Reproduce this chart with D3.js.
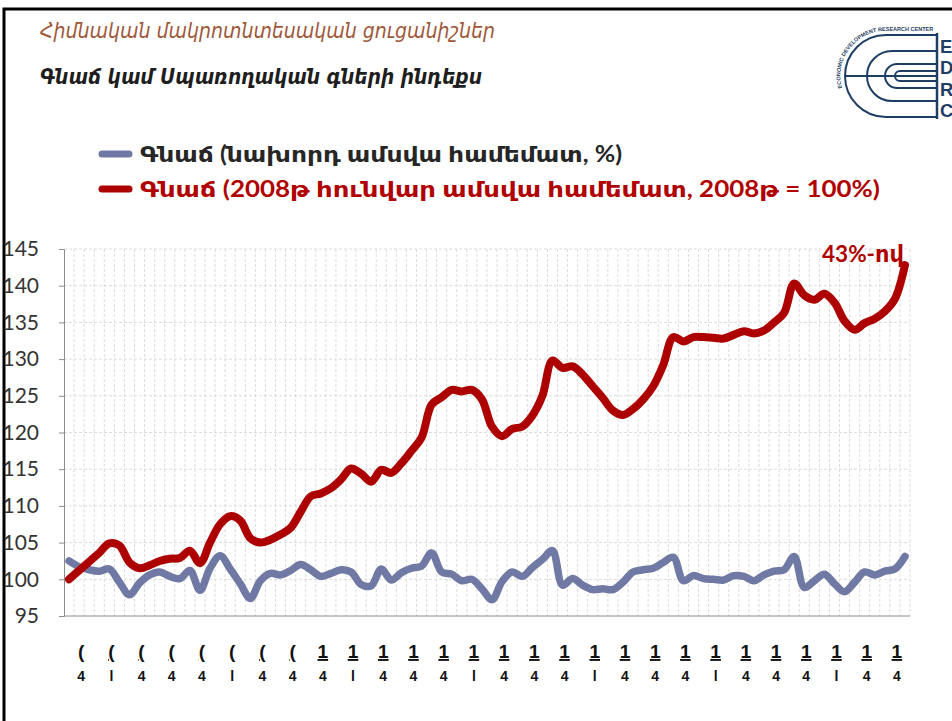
<!DOCTYPE html>
<html>
<head>
<meta charset="utf-8">
<script src="https://cdn.jsdelivr.net/npm/d3@7"></script>
<style>
  body { margin: 0; background: #fff; }
  svg { display: block; }
</style>
</head>
<body>
<div id="chart"></div>
<script>
// chart data
var years = [2008, 2009, 2010, 2011, 2012, 2013, 2014];
var monthNums = ["01","02","03","04","05","06","07","08","09","10","11","12"];

// month-over-month (blue)
var momValues = [102.5, 101.7, 101.3, 101.1, 101.4, 99.6, 97.9, 99.5, 100.6, 101.0,
  100.4, 100.1, 101.2, 98.5, 101.5, 103.2, 101.4, 99.4, 97.4, 99.8,
  100.8, 100.6, 101.2, 102.0, 101.3, 100.4, 100.8, 101.3, 101.0, 99.3,
  99.1, 101.4, 99.9, 100.9, 101.5, 101.8, 103.6, 101.0, 100.7, 99.8,
  100.0, 98.7, 97.2, 99.7, 101.0, 100.4, 101.6, 102.7, 103.9, 99.2,
  100.1, 99.2, 98.6, 98.7, 98.6, 99.6, 101.0, 101.3, 101.5, 102.3,
  103.0, 99.8, 100.5, 100.1, 100.0, 99.9, 100.5, 100.4, 99.8, 100.6,
  101.1, 101.3, 103.1, 98.9, 99.8, 100.7, 99.4, 98.3, 99.6, 101.0,
  100.6, 101.1, 101.4, 103.1];

// index vs Jan 2008 = 100 (red)
var indexValues = [100, 101.2, 102.4, 103.6, 104.9, 104.6, 102.3, 101.5, 101.9, 102.5,
  102.8, 102.9, 103.9, 102.2, 105.0, 107.5, 108.6, 108.0, 105.6, 105.0,
  105.4, 106.1, 107.0, 109.2, 111.3, 111.7, 112.4, 113.6, 115.1, 114.4,
  113.3, 114.9, 114.5, 115.8, 117.5, 119.3, 123.8, 124.8, 125.8, 125.6,
  125.8, 124.5, 120.8, 119.5, 120.5, 120.8, 122.3, 125.0, 129.8, 128.8,
  129.0, 127.9, 126.3, 124.7, 123.0, 122.4, 123.2, 124.5, 126.3, 129.2,
  133.0, 132.4, 133.0, 133.0, 132.9, 132.8, 133.3, 133.8, 133.5, 133.9,
  135.0, 136.3, 140.3, 138.7, 138.1, 138.9, 137.7, 135.2, 134.0, 134.9,
  135.5, 136.5, 138.2, 142.8];

var yTicks = [95, 100, 105, 110, 115, 120, 125, 130, 135, 140, 145];
// the category labels are clipped in the original, two glyphs survive
var labelTopByYear = ["(", "(", "1", "1", "1", "1", "1"];
var labelBottomByQuarter = ["4", "l", "4", "4"];

var title = "Հիմնական մակրոտնտեսական ցուցանիշներ";
var subtitle = "Գնաճ կամ Սպառողական գների ինդեքս";
var seriesNames = ["Գնաճ (նախորդ ամսվա համեմատ, %)", "Գնաճ (2008թ հունվար ամսվա համեմատ, 2008թ = 100%)"];
var endNote = "43%-ով";

var months = [];
years.forEach(function(y) { monthNums.forEach(function(m) { months.push(y + "-" + m); }); });

var W = 952, H = 721;
var svg = d3.select("#chart").append("svg").attr("width", W).attr("height", H);

// frame
svg.append("path").attr("d", "M4,721 V9 H952").attr("fill", "none")
  .attr("stroke", "#000").attr("stroke-width", 3);

// titles
svg.append("text").attr("x", 40).attr("y", 38).text(title)
  .attr("font-family", "DejaVu Sans").attr("font-style", "italic").attr("font-size", 22)
  .attr("fill", "#a0573a").attr("textLength", 455).attr("lengthAdjust", "spacingAndGlyphs");
svg.append("text").attr("x", 40).attr("y", 84).text(subtitle)
  .attr("font-family", "DejaVu Sans").attr("font-style", "italic").attr("font-weight", "bold")
  .attr("font-size", 22).attr("fill", "#1e1e1e")
  .attr("textLength", 442).attr("lengthAdjust", "spacingAndGlyphs");

// logo
var logo = svg.append("g").attr("fill", "none").attr("stroke", "#1f3e64").attr("stroke-width", 2);
var cy = 76;
[[41, 886], [25, 892], [12, 897], [5, 900]].forEach(function(a) {
  var r = a[0], cx = a[1];
  logo.append("path").attr("d", "M937," + (cy - r) + " H" + cx + " A" + r + "," + r + " 0 0 0 " + cx + "," + (cy + r) + " H937");
});
logo.append("line").attr("x1", 845).attr("x2", 937).attr("y1", cy).attr("y2", cy);
logo.append("line").attr("x1", 937).attr("x2", 937).attr("y1", 33).attr("y2", 119).attr("stroke-width", 2.5);
svg.append("path").attr("id", "logoArc").attr("fill", "none")
  .attr("d", "M842,88 A45,45 0 0 1 886,31 H936");
svg.append("text").attr("font-family", "Liberation Sans").attr("font-weight", "bold")
  .attr("font-size", 5.5).attr("fill", "#1f3e64")
  .append("textPath").attr("href", "#logoArc").text("ECONOMIC DEVELOPMENT RESEARCH CENTER");
svg.selectAll(".logoLetter").data(["E", "D", "R", "C"]).enter().append("text")
  .attr("x", 940).attr("y", function(d, i) { return 53 + i * 21.3; })
  .attr("font-family", "Liberation Sans").attr("font-weight", "bold").attr("font-size", 18.5)
  .attr("fill", "#1f3e64").text(function(d) { return d; });

// legend
var colors = ["#7079a3", "#ad0000"];
var legendY = [154, 189];
seriesNames.forEach(function(name, i) {
  svg.append("line").attr("x1", 102).attr("x2", 129).attr("y1", legendY[i]).attr("y2", legendY[i])
    .attr("stroke", colors[i]).attr("stroke-width", 7).attr("stroke-linecap", "round");
  svg.append("text").attr("x", 140).attr("y", legendY[i] + 8).text(name)
    .attr("font-family", "Lato, DejaVu Sans").attr("font-weight", "bold").attr("font-size", 22)
    .attr("fill", i === 0 ? "#262626" : "#b00000")
    .attr("textLength", i === 0 ? 482 : 740).attr("lengthAdjust", "spacingAndGlyphs");
});

// scales
var x = d3.scaleBand().domain(months).range([64, 910]);
var y = d3.scaleLinear().domain([95, 145]).range([616, 249]);
var cx0 = function(d) { return x(d) + x.bandwidth() / 2; };

// grid
var grid = svg.append("g").attr("stroke", "#dcdcdc").attr("stroke-width", 1).attr("stroke-dasharray", "3,2");
grid.selectAll(".hg").data(yTicks.slice(1)).enter().append("line")
  .attr("x1", 64).attr("x2", 910).attr("y1", function(d) { return y(d); }).attr("y2", function(d) { return y(d); });
grid.selectAll(".vg").data(months).enter().append("line")
  .attr("x1", function(d) { return x(d) + x.bandwidth(); })
  .attr("x2", function(d) { return x(d) + x.bandwidth(); })
  .attr("y1", 249).attr("y2", 616);

// axes
var yAxis = svg.append("g").attr("transform", "translate(64,0)")
  .call(d3.axisLeft(y).tickValues(yTicks).tickSize(5).tickPadding(20));
yAxis.select(".domain").attr("stroke", "#8c8c8c");
yAxis.selectAll(".tick line").attr("stroke", "#8c8c8c");
yAxis.selectAll(".tick text").attr("font-family", "Lato").attr("font-size", 21).attr("fill", "#333");

svg.append("line").attr("x1", 64).attr("x2", 910).attr("y1", 616).attr("y2", 616)
  .attr("stroke", "#8c8c8c").attr("stroke-width", 1);

// x labels, every third month
var tickMonths = months.filter(function(d, i) { return i % 3 === 1; });
var xl = svg.append("g").attr("font-family", "Liberation Sans").attr("font-weight", "bold")
  .attr("fill", "#111").attr("text-anchor", "middle");
tickMonths.forEach(function(m, k) {
  var px = cx0(m) + 2;
  xl.append("text").attr("x", px).attr("y", 658).attr("font-size", 19)
    .style("text-decoration", "underline")
    .text(labelTopByYear[Math.floor(k / 4)]);
  xl.append("text").attr("x", px).attr("y", 681).attr("font-size", 14)
    .text(labelBottomByQuarter[k % 4]);
});

// lines
var line = d3.line().curve(d3.curveCatmullRom.alpha(0.5))
  .x(function(d) { return cx0(d[0]); }).y(function(d) { return y(d[1]); });

svg.append("path").datum(d3.zip(months, momValues)).attr("d", line)
  .attr("fill", "none").attr("stroke", colors[0]).attr("stroke-width", 7.5)
  .attr("stroke-linejoin", "round").attr("stroke-linecap", "round");
svg.append("path").datum(d3.zip(months, indexValues)).attr("d", line)
  .attr("fill", "none").attr("stroke", colors[1]).attr("stroke-width", 8)
  .attr("stroke-linejoin", "round").attr("stroke-linecap", "round");

// end note
svg.append("text").attr("x", 822).attr("y", 262).text(endNote)
  .attr("font-family", "Lato, DejaVu Sans").attr("font-weight", "bold").attr("font-size", 23)
  .attr("fill", "#b00000").attr("textLength", 82).attr("lengthAdjust", "spacingAndGlyphs");
</script>
</body>
</html>
